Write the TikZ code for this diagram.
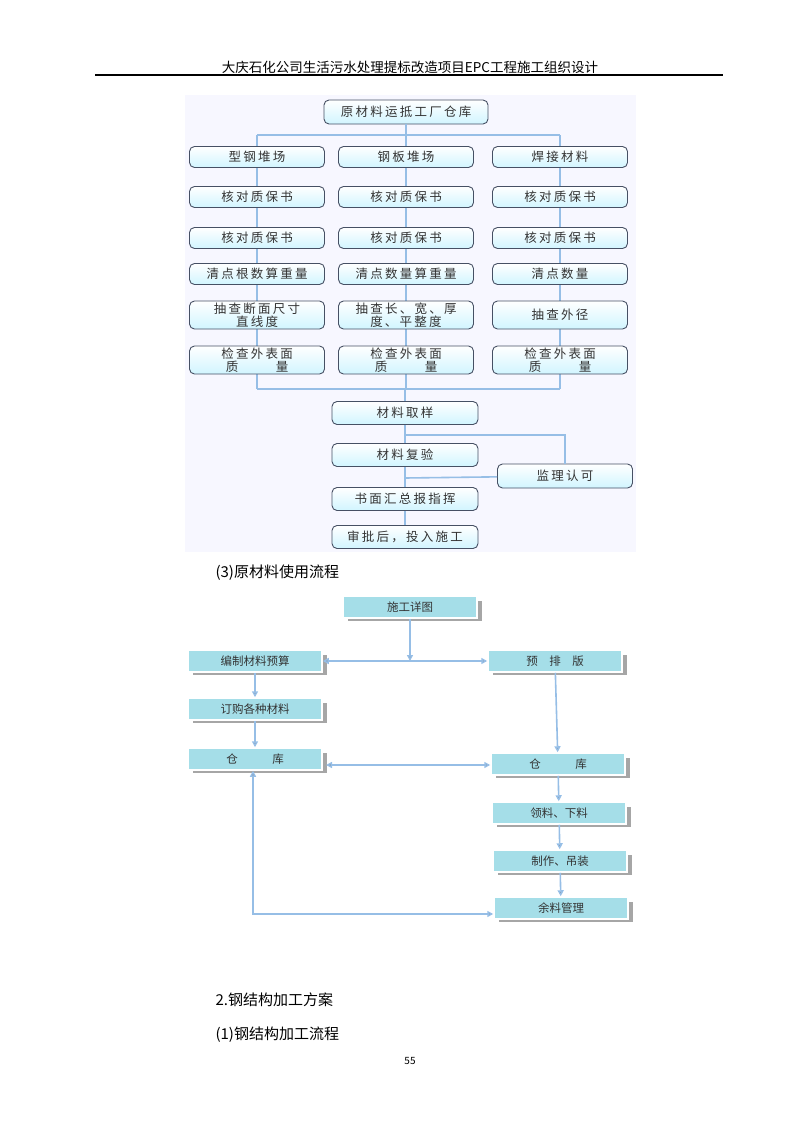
\documentclass[tikz,border=0pt]{standalone}
\usepackage{fontspec}
\setmainfont{Noto Sans CJK SC}
\newfontfamily\cjkls[LetterSpace=18]{Noto Sans CJK SC}
\usetikzlibrary{arrows.meta}
\definecolor{ln}{RGB}{150,190,230}
\definecolor{bd}{RGB}{70,80,100}
\definecolor{cy}{RGB}{165,222,232}
\tikzset{
 tb/.style={draw=bd, line width=0.9pt, rounded corners=5pt, top color=white, bottom color=blue!22!cyan!18, minimum width=135pt, minimum height=21pt, inner sep=1pt, font=\cjkls\fontsize{12.5}{12.5}\selectfont, align=center, text=black!80},
 tb2/.style={tb, minimum height=28pt},
 cl/.style={ln, line width=1.6pt},
 bb/.style={fill=cy, draw=white, line width=1.5pt, minimum width=134pt, minimum height=22pt, font=\fontsize{11.5}{12}\selectfont, text=black!80},
 sh/.style={fill=black!35},
 ar/.style={draw=ln, line width=1.6pt, -{Triangle[length=6pt,width=6pt,fill=black!55]}},
 dar/.style={draw=ln, line width=1.6pt, {Triangle[length=6pt,width=6pt,fill=black!55]}-{Triangle[length=6pt,width=6pt,fill=black!55]}},
}
\begin{document}
\begin{tikzpicture}[x=1pt,y=-1pt]
\useasboundingbox (0,0) rectangle (800,1132);
\node (hdr) at (410,67) {\fontsize{13.5}{14}\selectfont 大庆石化公司生活污水处理提标改造项目EPC工程施工组织设计};
\draw[line width=1.5pt] (95,75) -- (723,75);
% top chart
\fill[blue!3] (185,95) rectangle (636,552);
\node[tb, minimum width=164pt, minimum height=24pt] (t0) at (406,112) {原材料运抵工厂仓库};
\foreach \c/\x in {a/257,b/406,c/560}{
 \coordinate (h\c) at (\x,135);
 \coordinate (l\c) at (\x,389);
}
\draw[cl] (t0) -- (406,135);
\draw[cl] (ha) -- (hc);
\draw[cl] (la) -- (lc);
\foreach \c/\x in {a/257,b/406,c/560}{\draw[cl] (h\c) -- (l\c);}
\node[tb] (a1) at (257,157) {型钢堆场};
\node[tb] (b1) at (406,157) {钢板堆场};
\node[tb] (c1) at (560,157) {焊接材料};
\foreach \c/\x in {a/257,b/406,c/560}{
 \node[tb] (\c2) at (\x,197) {核对质保书};
 \node[tb] (\c3) at (\x,238) {核对质保书};
}
\node[tb] (a4) at (257,274) {清点根数算重量};
\node[tb] (b4) at (406,274) {清点数量算重量};
\node[tb] (c4) at (560,274) {清点数量};
\node[tb2] (a5) at (257,315) {抽查断面尺寸\\直线度};
\node[tb2] (b5) at (406,315) {抽查长、宽、厚\\度、平整度};
\node[tb2] (c5) at (560,315) {抽查外径};
\foreach \c/\x in {a/257,b/406,c/560}{
 \node[tb2] (\c6) at (\x,360) {检查外表面\\质\hspace{3em}量};
}
\coordinate (m0) at (405,389);
\node[tb, minimum width=146pt, minimum height=23pt] (m1) at (405,413) {材料取样};
\node[tb, minimum width=146pt, minimum height=23pt] (m2) at (405,455) {材料复验};
\node[tb, minimum width=135pt, minimum height=24pt] (jl) at (565,476) {监理认可};
\coordinate (br) at (405,435);
\coordinate (jm) at (405,478);
\draw[cl] (m0) -- (m1);
\draw[cl] (m1) -- (m2);
\draw[cl] (br) -| (jl);
\draw[cl] (jl) -- (jm);
\node[tb, minimum width=146pt, minimum height=23pt] (m3) at (405,499) {书面汇总报指挥};
\node[tb, minimum width=146pt, minimum height=23pt] (m4) at (405,537) {审批后，投入施工};
\draw[cl] (m2) -- (m3);
\draw[cl] (m3) -- (m4);
% text
\node[anchor=west] (s3) at (212,573) {\fontsize{15}{16}\selectfont (3)原材料使用流程};
% bottom chart
\foreach \x/\y in {410/607,255/661,555/661,255/709,255/759,558/764,559/813,560/861,561/908}{
 \fill[sh] (\x-62,\y-6) rectangle (\x+72,\y+14);
}
\node[bb] (p0) at (410,607) {施工详图};
\node[bb] (p1) at (255,661) {编制材料预算};
\node[bb] (p2) at (555,661) {预\quad 排\quad 版};
\node[bb] (p3) at (255,709) {订购各种材料};
\node[bb] (p4) at (255,759) {仓\hspace{3em}库};
\node[bb] (p5) at (558,764) {仓\hspace{3em}库};
\node[bb] (p6) at (559,813) {领料、下料};
\node[bb] (p7) at (560,861) {制作、吊装};
\node[bb] (p8) at (561,908) {余料管理};
\coordinate (j0) at (410,661);
\draw[ar] (p0.south) -- (j0);
\draw[dar] (p1.east) -- (p2.west);
\draw[ar] (p1) -- (p3);
\draw[ar] (p3) -- (p4);
\draw[ar] (p2) -- (p5);
\coordinate (hl) at (326,765);
\draw[dar] (hl) -- (hl -| p5.west);
\draw[ar] (p5) -- (p6);
\draw[ar] (p6) -- (p7);
\draw[ar] (p7) -- (p8);
\coordinate (cor) at (253,914);
\draw[dar] (p4.south -| cor) -- (cor) -- (p8.west |- cor);
\node[anchor=west] (s4) at (212,1000) {\fontsize{15}{16}\selectfont 2.钢结构加工方案};
\node[anchor=west] (s5) at (212,1035) {\fontsize{15}{16}\selectfont (1)钢结构加工流程};
\node (pg) at (410,1061) {\fontsize{10}{10}\selectfont 55};
\end{tikzpicture}
\end{document}
